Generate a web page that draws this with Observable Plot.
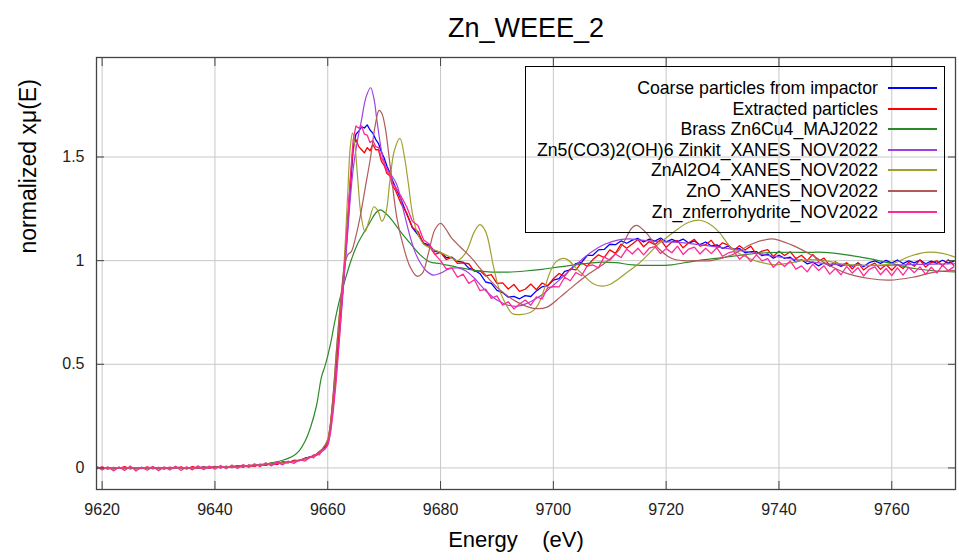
<!DOCTYPE html>
<html><head><meta charset="utf-8">
<script src="https://cdn.jsdelivr.net/npm/d3@7"></script>
<script src="https://cdn.jsdelivr.net/npm/@observablehq/plot@0.6"></script>
<style>
body{margin:0;background:#fff;font-family:"Liberation Sans",Arial,sans-serif;}
#wrap{position:relative;width:959px;height:560px;overflow:hidden;}
#legend{position:absolute;left:525px;top:66px;width:420px;height:167px;border:1.5px solid #000;box-sizing:border-box;}
.lt{position:absolute;left:0;width:352px;text-align:right;font-size:17.7px;line-height:20px;color:#000;white-space:nowrap;}
.ll{position:absolute;left:362px;width:49px;height:2px;}
</style></head>
<body><div id="wrap"><div id="chart"></div><div id="legend"></div></div>
<script>
const titleText = "Zn_WEEE_2";
const xLabelText = "Energy\u00a0\u00a0\u00a0\u00a0(eV)";
const yLabelText = "normalized xμ(E)";
const xTicks = [9620, 9640, 9660, 9680, 9700, 9720, 9740, 9760];
const yTicks = [0, 0.5, 1, 1.5];

const seriesNames = ["Coarse particles from impactor", "Extracted particles", "Brass Zn6Cu4_MAJ2022",
  "Zn5(CO3)2(OH)6 Zinkit_XANES_NOV2022", "ZnAl2O4_XANES_NOV2022", "ZnO_XANES_NOV2022", "Zn_znferrohydrite_NOV2022"];
const seriesColors = ["#0000ff", "#ff0000", "#2a8a2a", "#a040e0", "#a0a030", "#b05a5a", "#ff2a96"];

// measured energy grid of the noisy samples (1 eV pre-edge, 0.5 eV edge, 1 eV post-edge)
const noisyEnergy = [...d3.range(9619, 9657, 1), ...d3.range(9657, 9672, 0.5), ...d3.range(9672, 9772, 1)];

const coarseA = [0.004,-0.003,0.002,-0.004,0.003,-0.002,0.001,-0.005,0.003,-0.001,
 0.004,-0.003,0.002,-0.002,0.004,0.000,-0.003,0.003,0.000,0.004,
 0.001,0.005,0.002,0.007,0.004,0.009,0.006,0.012,0.010,0.016,
 0.014,0.021,0.019,0.027,0.026,0.034,0.036,0.046];
const coarseB = [0.055,0.058,0.066,0.074,0.086,0.100,0.120,0.200,0.330,0.480,
 0.640,0.800,0.970,1.150,1.350,1.540,1.610,1.625,1.645,1.640,
 1.655,1.630,1.615,1.585,1.565,1.525,1.495,1.455,1.425,1.385];
const coarseC = [1.355,1.295,1.225,1.160,1.125,1.085,1.075,1.045,1.040,1.015,
 1.016,0.996,0.993,0.964,0.954,0.937,0.897,0.890,0.857,0.846,
 0.824,0.828,0.816,0.831,0.827,0.854,0.874,0.880,0.906,0.913,
 0.948,0.955,0.986,0.992,1.025,1.026,1.052,1.054,1.079,1.077,
 1.095,1.084,1.099,1.107,1.090,1.104,1.094,1.109,1.091,1.103,
 1.092,1.104,1.085,1.095,1.077,1.090,1.071,1.076,1.059,1.070,
 1.055,1.058,1.038,1.044,1.044,1.024,1.032,1.012,1.026,1.011,
 1.017,0.994,1.004,0.985,0.993,0.975,0.990,0.974,0.985,0.972,
 0.986,0.973,0.988,0.971,0.991,0.999,0.987,1.001,0.988,1.003,
 0.986,0.999,0.989,1.003,0.985,0.998,0.987,1.002,0.988,0.997];

const extractedA = [-0.004,0.005,-0.006,0.003,-0.002,0.006,-0.005,0.002,-0.003,0.005,
 -0.004,0.003,-0.006,0.004,-0.002,0.005,-0.004,0.006,-0.002,0.005,
 -0.001,0.007,0.000,0.008,0.002,0.011,0.004,0.014,0.008,0.018,
 0.012,0.024,0.017,0.030,0.025,0.037,0.035,0.048];
const extractedB = [0.052,0.062,0.066,0.079,0.089,0.105,0.125,0.210,0.350,0.500,
 0.660,0.820,1.000,1.180,1.380,1.550,1.585,1.550,1.535,1.520,
 1.545,1.530,1.560,1.535,1.535,1.480,1.460,1.420,1.410,1.360];
const extractedC = [1.340,1.275,1.230,1.160,1.140,1.080,1.070,1.030,1.040,1.005,
 1.017,0.987,0.989,0.985,0.948,0.951,0.926,0.933,0.890,0.893,
 0.863,0.885,0.852,0.862,0.887,0.860,0.892,0.878,0.913,0.938,
 0.925,0.960,0.955,0.990,0.973,1.005,1.028,1.015,1.052,1.035,
 1.080,1.060,1.080,1.102,1.067,1.092,1.077,1.102,1.064,1.090,
 1.097,1.062,1.086,1.103,1.070,1.077,1.098,1.062,1.086,1.075,
 1.050,1.072,1.051,1.070,1.032,1.046,1.053,1.020,1.045,1.025,
 1.043,1.010,1.026,1.000,1.030,0.997,1.012,0.976,0.995,0.976,
 0.990,0.960,0.990,0.955,0.975,0.988,0.958,0.980,0.954,0.982,
 0.962,0.991,0.973,1.003,0.969,0.991,0.999,0.975,1.005,0.977];

const ferriA = [0.008,-0.010,0.006,-0.014,0.004,-0.012,0.009,-0.015,0.002,-0.011,
 0.007,-0.013,0.005,-0.010,0.008,-0.012,0.006,-0.009,0.010,-0.008,
 0.009,-0.006,0.012,-0.004,0.014,-0.002,0.016,0.002,0.020,0.006,
 0.025,0.010,0.028,0.015,0.033,0.022,0.040,0.033];
const ferriB = [0.055,0.048,0.068,0.063,0.085,0.090,0.115,0.170,0.280,0.420,
 0.600,0.800,0.980,1.180,1.400,1.580,1.650,1.640,1.650,1.610,
 1.605,1.570,1.580,1.550,1.545,1.495,1.475,1.430,1.415,1.370];
const ferriC = [1.355,1.310,1.260,1.190,1.170,1.100,1.080,1.030,1.000,0.960,
 0.965,0.920,0.935,0.890,0.908,0.855,0.863,0.818,0.830,0.785,
 0.802,0.767,0.791,0.810,0.785,0.825,0.815,0.870,0.874,0.873,
 0.920,0.903,0.943,0.927,0.975,0.979,0.965,1.018,1.002,1.032,
 1.015,1.056,1.032,1.060,1.028,1.060,1.068,1.034,1.058,1.038,
 1.070,1.030,1.056,1.065,1.032,1.060,1.034,1.062,1.021,1.037,
 1.045,1.007,1.030,0.995,1.028,0.999,1.010,0.968,0.995,0.972,
 0.998,0.959,0.975,0.946,0.983,0.953,0.975,0.935,0.962,0.932,
 0.972,0.940,0.966,0.926,0.958,0.970,0.932,0.962,0.928,0.965,
 0.930,0.968,0.942,0.970,0.934,0.968,0.940,0.978,0.952,0.970];

const brassE = [9619,9630,9640,9645,9649,9652,9654,9655,9656,9657,9658,9658.9,9659.6,9660.5,9661.2,9662,9663,9664,9665.2,9666.5,9667.6,9668.5,9669.3,9670.2,9671.1,9672.9,9674.6,9676.3,9678,9680,9683,9686,9689,9692,9695,9698,9701,9704,9708,9711,9714,9718,9721,9725,9730,9736,9740,9745,9748,9752,9756,9760,9764,9768,9771.4];
const brassMu = [0,0,0.004,0.01,0.02,0.037,0.06,0.085,0.13,0.2,0.3,0.44,0.5,0.6,0.7,0.8,0.9,0.99,1.076,1.14,1.19,1.23,1.245,1.23,1.205,1.14,1.084,1.03,0.995,0.985,0.968,0.953,0.945,0.945,0.95,0.958,0.97,0.98,0.992,0.99,0.98,0.977,0.98,0.998,1.015,1.035,1.04,1.04,1.04,1.028,1.01,0.986,0.962,0.95,0.946];

const zinkitE = [9619,9640,9645,9650,9655,9658,9659,9660,9660.5,9661,9661.5,9662,9662.5,9663,9663.5,9664,9664.5,9665.2,9666,9666.8,9667.6,9668.2,9668.7,9669.6,9670.3,9671.1,9672.2,9673.4,9674.6,9675.5,9676.4,9677.5,9678.7,9680,9681.5,9683,9684.5,9686,9688,9690,9692,9693.6,9695,9696.5,9698,9699.5,9701,9702.4,9704,9705.7,9707.5,9709.2,9711.6,9713.5,9715.1,9718.6,9722,9725,9728,9731,9734,9737,9740,9743,9746,9749,9752,9756,9760,9765,9771.4];
const zinkitMu = [0,0.003,0.008,0.02,0.037,0.06,0.08,0.11,0.18,0.3,0.45,0.6,0.77,0.95,1.12,1.3,1.44,1.57,1.68,1.79,1.834,1.78,1.68,1.52,1.45,1.42,1.37,1.245,1.116,1.04,0.99,0.95,0.93,0.94,0.96,0.965,0.95,0.915,0.855,0.81,0.785,0.78,0.79,0.81,0.835,0.87,0.905,0.94,0.98,1.02,1.055,1.08,1.1,1.105,1.1,1.092,1.088,1.08,1.07,1.058,1.045,1.03,1.018,1.005,0.993,0.983,0.978,0.976,0.978,0.982,0.985];

const spinelE = [9619,9640,9645,9650,9655,9658,9659,9660,9660.5,9661,9661.5,9662,9662.8,9663.5,9664,9664.4,9664.8,9665.3,9665.9,9666.6,9667.4,9668.2,9668.9,9669.6,9670.3,9671,9671.8,9672.8,9673.6,9674.3,9675,9675.8,9677,9678.2,9680,9681.5,9683,9684.5,9686,9687,9688,9689.4,9690.3,9691.2,9692.7,9694,9695.9,9697,9697.7,9698.6,9699.5,9700.5,9701.5,9702.5,9704,9705.7,9707,9708.6,9710,9711.6,9713.4,9715.1,9717,9718.6,9720.5,9722.2,9724,9726,9727.5,9729.3,9731.6,9734,9736.3,9739.3,9742.2,9745,9748,9751,9754.3,9757,9760.2,9763.1,9766.1,9769,9771.4];
const spinelMu = [0,0.003,0.008,0.02,0.037,0.065,0.09,0.14,0.22,0.36,0.55,0.72,0.95,1.3,1.55,1.616,1.56,1.4,1.22,1.14,1.2,1.26,1.24,1.19,1.23,1.38,1.53,1.59,1.5,1.37,1.23,1.14,1.08,1.06,1.04,1.02,1.0,1.04,1.14,1.174,1.14,0.97,0.87,0.81,0.745,0.74,0.75,0.775,0.81,0.88,0.95,0.995,1.01,1.005,0.965,0.92,0.89,0.877,0.885,0.913,0.95,0.985,1.035,1.08,1.12,1.155,1.185,1.195,1.18,1.14,1.06,1.02,0.995,0.98,0.99,1.005,1.0,0.985,0.978,0.978,0.986,1.02,1.04,1.035,1.015];

const zincOxideE = [9619,9640,9645,9650,9655,9658,9659,9660,9660.5,9661,9661.5,9662,9662.5,9663,9663.6,9664.2,9665,9665.8,9666.7,9667.6,9668.4,9669.1,9669.6,9670.2,9671.1,9672.3,9673.5,9674.6,9675.8,9676.8,9677.8,9679,9680,9681,9681.8,9683.5,9685.3,9687.1,9688.8,9690.6,9693.6,9696.5,9698.9,9701.2,9703,9705.7,9709.2,9711.6,9712.5,9714,9714.8,9716.6,9718.6,9721,9723,9725,9728,9731.6,9735.2,9738.7,9742.2,9745.8,9748.4,9751.9,9756,9759.6,9763.7,9767.8,9771.4];
const zincOxideMu = [0,0.003,0.008,0.02,0.037,0.065,0.09,0.13,0.22,0.37,0.55,0.72,0.87,0.98,1.03,1.045,1.12,1.22,1.36,1.5,1.65,1.725,1.71,1.64,1.45,1.2,1.06,0.97,0.925,0.94,1.03,1.15,1.18,1.15,1.115,1.066,1.018,0.96,0.905,0.857,0.8,0.77,0.776,0.824,0.865,0.925,0.99,1.05,1.09,1.16,1.17,1.13,1.06,1.01,1.0,1.0,1.0,1.027,1.08,1.105,1.076,1.027,0.985,0.94,0.914,0.906,0.92,0.946,0.954];

const noisy = (vals) => noisyEnergy.map((e, i) => ({e, mu: vals[i]}));
const smooth = (es, ms) => es.map((e, i) => ({e, mu: ms[i]}));

const seriesData = [
  {d: noisy([...coarseA, ...coarseB, ...coarseC]), curve: "linear", w: 1.3},
  {d: noisy([...extractedA, ...extractedB, ...extractedC]), curve: "linear", w: 1.3},
  {d: smooth(brassE, brassMu), curve: "catmull-rom", w: 1.2},
  {d: smooth(zinkitE, zinkitMu), curve: "catmull-rom", w: 1.2},
  {d: smooth(spinelE, spinelMu), curve: "catmull-rom", w: 1.2},
  {d: smooth(zincOxideE, zincOxideMu), curve: "catmull-rom", w: 1.2},
  {d: noisy([...ferriA, ...ferriB, ...ferriC]), curve: "linear", w: 1.3}
];

const gridStyle = {stroke: "#c8c8c8", strokeOpacity: 1, strokeWidth: 1};
const fmt = d => String(d);

const chart = Plot.plot({
  width: 959, height: 560,
  marginLeft: 96, marginRight: 4, marginTop: 57, marginBottom: 71,
  x: {domain: [9619, 9771.3]},
  y: {domain: [-0.104, 1.98]},
  style: {fontFamily: "'Liberation Sans', Arial, sans-serif", fontSize: "16px", color: "#222", background: "#fff", overflow: "visible"},
  marks: [
    Plot.gridX(xTicks, gridStyle),
    Plot.gridY(yTicks, gridStyle),
    ...seriesData.map((s, i) => Plot.line(s.d, {x: "e", y: "mu", stroke: seriesColors[i], strokeWidth: s.w, curve: s.curve, clip: true})),
    Plot.frame({stroke: "#444", strokeWidth: 1.3}),
    Plot.axisX(xTicks, {anchor: "bottom", tickSize: -8, tickPadding: 22, tickFormat: fmt, label: null, stroke: "#444", fill: "#222", fontSize: 16}),
    Plot.axisX(xTicks, {anchor: "top", tickSize: -8, tickFormat: () => "", label: null, stroke: "#444"}),
    Plot.axisY(yTicks, {anchor: "left", tickSize: -8, tickPadding: 20, tickFormat: fmt, label: null, stroke: "#444", fill: "#222", fontSize: 16}),
    Plot.axisY(yTicks, {anchor: "right", tickSize: -8, tickFormat: () => "", label: null, stroke: "#444"}),
    Plot.text([titleText], {frameAnchor: "top", dy: -40, fontSize: 27, fill: "#000"}),
    Plot.text([xLabelText], {frameAnchor: "bottom", dy: 57, dx: -10, fontSize: 22, fill: "#000"}),
    Plot.text([yLabelText], {frameAnchor: "left", dx: -68, dy: -20, rotate: -90, fontSize: 23, fill: "#000"})
  ]
});
document.getElementById("chart").appendChild(chart);

const legend = document.getElementById("legend");
seriesNames.forEach((name, i) => {
  const top = 21 + i * 20.6;
  const t = document.createElement("div");
  t.className = "lt"; t.textContent = name; t.style.top = (top - 10) + "px";
  legend.appendChild(t);
  const l = document.createElement("div");
  l.className = "ll"; l.style.top = Math.round(top - 1) + "px"; l.style.background = seriesColors[i];
  legend.appendChild(l);
});
</script></body></html>
